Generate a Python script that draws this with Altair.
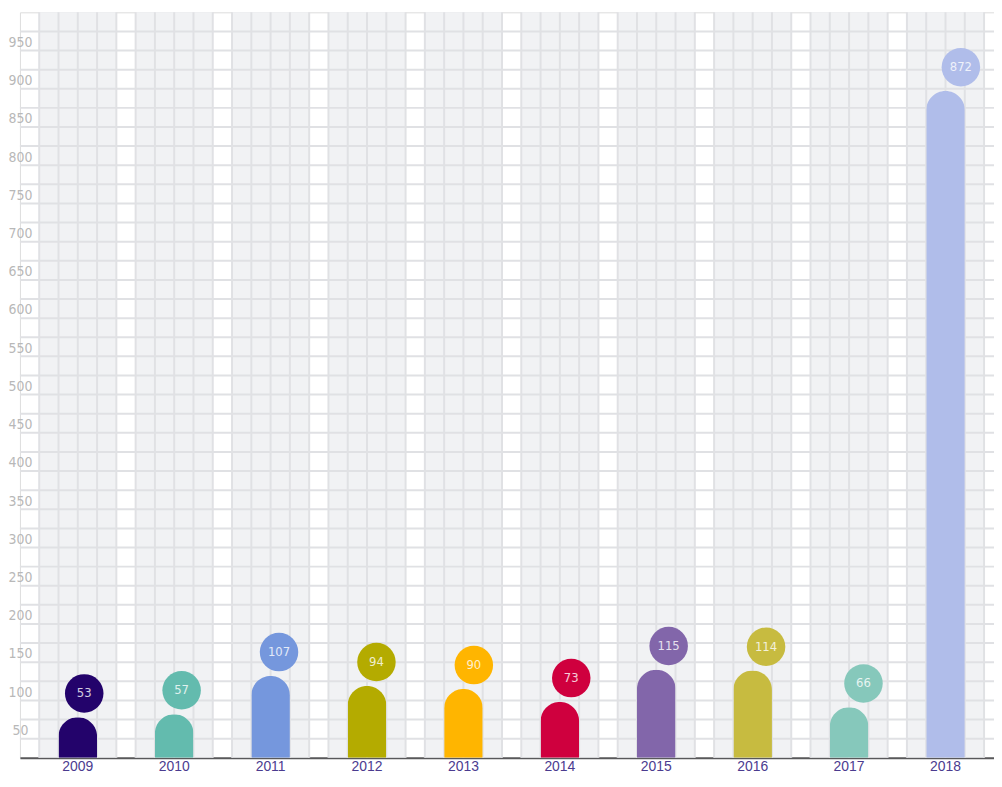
import altair as alt
import pandas as pd

years = ["2009", "2010", "2011", "2012", "2013", "2014", "2015", "2016", "2017", "2018"]
values = [53, 57, 107, 94, 90, 73, 115, 114, 66, 872]
colors = ["#23036b", "#63bbae", "#7597dd", "#b4ab00", "#ffb500",
          "#cf003e", "#8266aa", "#c7bb40", "#86c8bb", "#b0bdea"]
y_labels = list(range(50, 951, 50))
h_grid = list(range(25, 951, 25))
v_grid = list(range(1, 51))

Y_MAX = 975
W = 980
H = 750
CELLS = W / 19.4

df = pd.DataFrame({"year": years, "value": values, "color": colors,
                   "top": [Y_MAX] * len(years), "bottom": [0] * len(years)})
hg = pd.DataFrame({"v": h_grid})
vg = pd.DataFrame({"c": v_grid})

FONT_N = "DejaVu Sans Condensed, Roboto, sans-serif"
xscale = alt.Scale(domain=years, paddingInner=0.2, paddingOuter=0.1515, align=0.66)
yscale = alt.Scale(domain=[0, Y_MAX], nice=False, zero=True)

base = alt.Chart(df)

bands = base.mark_bar(color="#f1f2f4").encode(
    x=alt.X("year:N", scale=xscale, title=None,
            axis=alt.Axis(labelAngle=0, ticks=False, domain=True, domainColor="#58585a",
                          domainWidth=2, labelColor="#4b3b8f", labelFont="Liberation Sans, sans-serif",
                          labelFontSize=14, labelPadding=2, grid=False)),
    y=alt.Y("top:Q", scale=yscale, title=None,
            axis=alt.Axis(values=y_labels, grid=False, ticks=False, domain=False,
                          labelAlign="center", labelPadding=0, labelBaseline="middle",
                          labelOffset=11, labelColor="#b8b8b8", labelFont=FONT_N,
                          labelFontSize=14)),
    y2="bottom:Q",
)

hlines = alt.Chart(hg).mark_rule(color="#e0e1e4", strokeWidth=2).encode(
    y=alt.Y("v:Q", scale=yscale, axis=None)
)

vlines = alt.Chart(vg).mark_rule(color="#e0e1e4", strokeWidth=2).encode(
    x=alt.X("c:Q", scale=alt.Scale(domain=[0, CELLS], nice=False, zero=True), axis=None)
)

bars = base.mark_bar(width={"band": 0.5}, cornerRadiusTopLeft=19.4, cornerRadiusTopRight=19.4).encode(
    x=alt.X("year:N", scale=xscale, axis=None),
    y=alt.Y("value:Q", scale=yscale, axis=None),
    color=alt.Color("color:N", scale=None),
)

circles = base.mark_circle(size=1500, opacity=1, yOffset=-24).encode(
    x=alt.X("year:N", scale=xscale, axis=None),
    y=alt.Y("value:Q", scale=yscale, axis=None),
    color=alt.Color("color:N", scale=None),
)

labels = base.mark_text(yOffset=-24, font=FONT_N, fontSize=13, color="white",
                        opacity=0.8, baseline="middle", align="center").encode(
    x=alt.X("year:N", scale=xscale, axis=None),
    y=alt.Y("value:Q", scale=yscale, axis=None),
    text=alt.Text("value:Q"),
)

chart = alt.layer(bands, hlines, vlines, bars, circles, labels).resolve_scale(
    x="independent"
).resolve_axis(y="independent").properties(
    width=W, height=H,
    autosize=alt.AutoSizeParams(type="none"),
    padding={"left": 12, "top": 2, "right": 0, "bottom": 14},
).configure_view(stroke=None).configure(background="white")

chart.save("out.html", embed_options={"renderer": "svg", "actions": False})
